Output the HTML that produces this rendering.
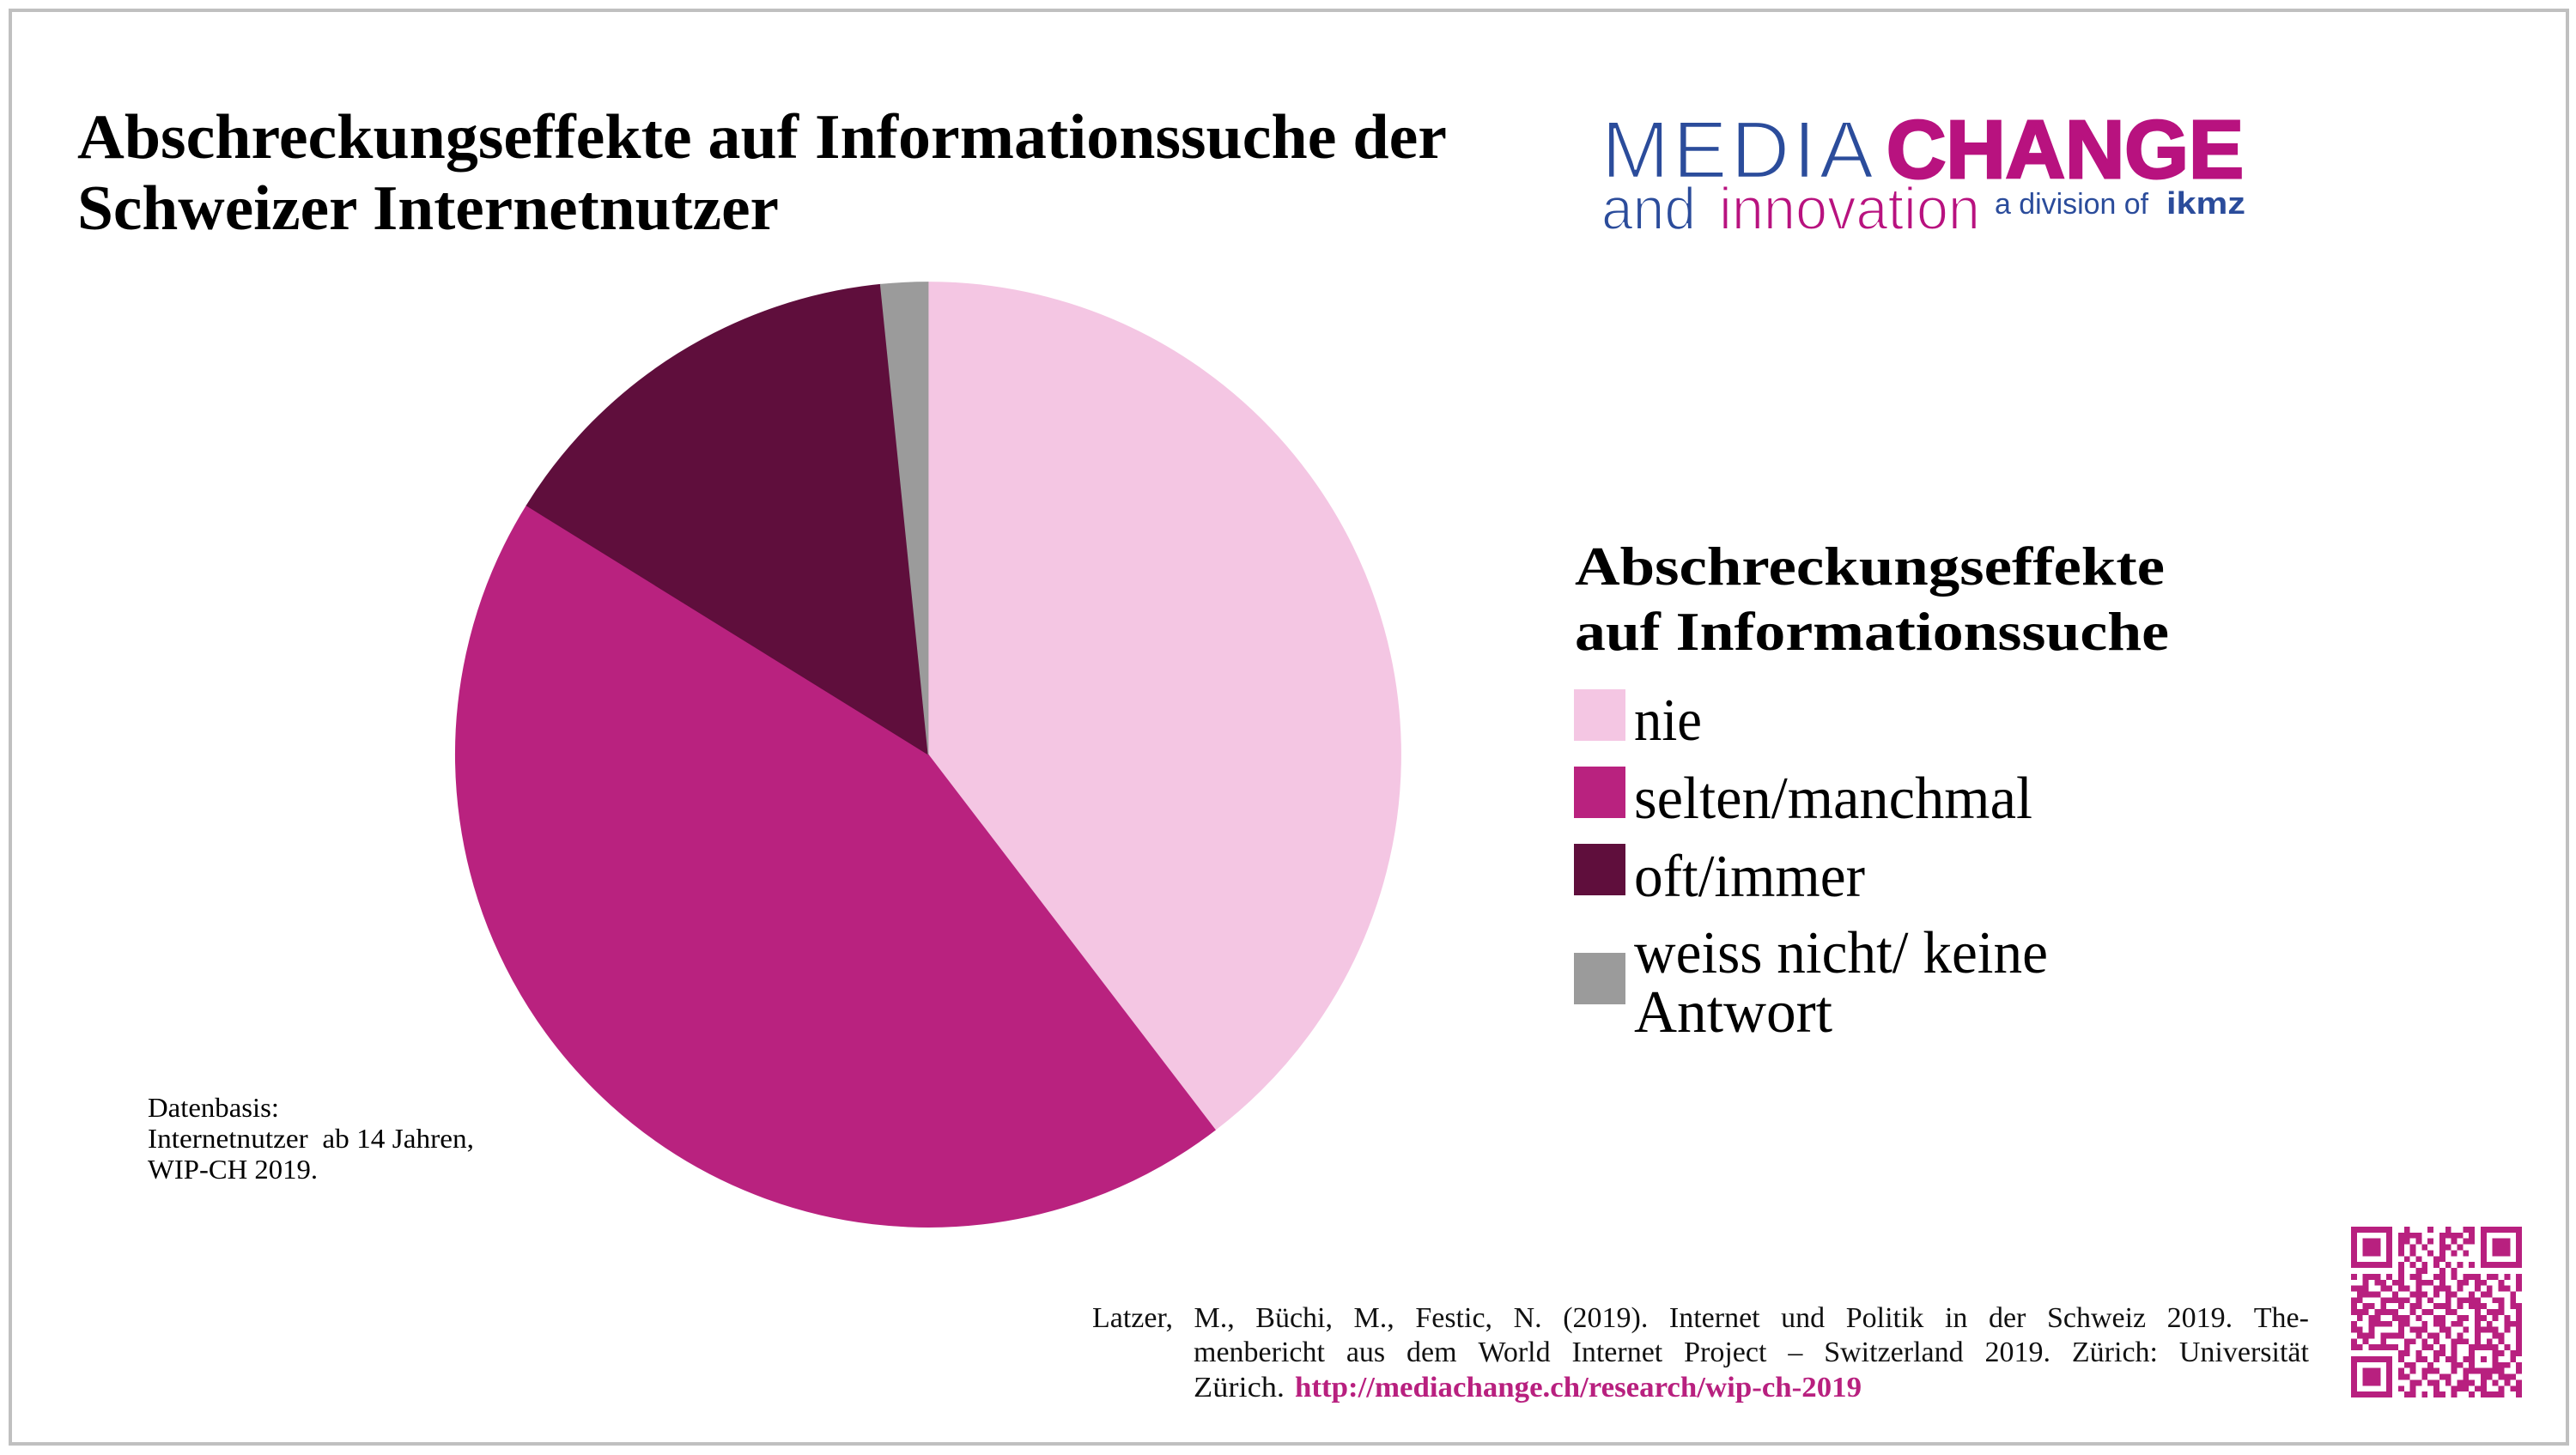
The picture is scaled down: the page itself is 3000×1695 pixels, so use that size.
<!DOCTYPE html>
<html>
<head>
<meta charset="utf-8">
<style>
  html,body{margin:0;padding:0;background:#fff;}
  body{width:3000px;height:1695px;position:relative;overflow:hidden;}
  .fn{position:absolute;display:flex;justify-content:space-between;font-family:"Liberation Serif",serif;font-size:34px;line-height:40px;height:40px;color:#111;white-space:nowrap;}
</style>
</head>
<body>
<svg width="3000" height="1695" viewBox="0 0 3000 1695" style="position:absolute;left:0;top:0">
  <!-- frame -->
  <rect x="12" y="12" width="2978" height="1670" fill="none" stroke="#c0c0c0" stroke-width="4"/>

  <!-- title -->
  <g font-family="Liberation Serif, serif" font-weight="bold" font-size="74" fill="#000">
    <text x="90" y="184" textLength="1595" lengthAdjust="spacingAndGlyphs">Abschreckungseffekte auf Informationssuche der</text>
    <text x="90" y="267" textLength="817" lengthAdjust="spacingAndGlyphs">Schweizer Internetnutzer</text>
  </g>

  <!-- logo -->
  <g font-family="Liberation Sans, sans-serif">
    <text x="1865" y="207" font-size="95" fill="#2B4C9B" stroke="#fff" stroke-width="2.5" textLength="317" lengthAdjust="spacing">MEDIA</text>
    <text x="2197" y="207" font-size="96" font-weight="bold" fill="#B8127F" stroke="#B8127F" stroke-width="3" textLength="416" lengthAdjust="spacingAndGlyphs">CHANGE</text>
    <text x="1865" y="267" font-size="70" fill="#2B4C9B" stroke="#fff" stroke-width="2" textLength="110" lengthAdjust="spacingAndGlyphs">and</text>
    <text x="2002" y="267" font-size="70" fill="#B8127F" stroke="#fff" stroke-width="2" textLength="304" lengthAdjust="spacingAndGlyphs">innovation</text>
    <text x="2323" y="249" font-size="34" fill="#2B4C9B" textLength="179" lengthAdjust="spacingAndGlyphs">a division of</text>
    <text x="2523" y="249" font-size="36" font-weight="bold" fill="#2B4C9B" textLength="92" lengthAdjust="spacingAndGlyphs">ikmz</text>
  </g>

  <!-- pie -->
  <g>
    <path d="M1081 879 L1081 328.5 A550.5 550.5 0 0 1 1415.4 1316.3 Z" fill="#F4C6E3" stroke="#F4C6E3" stroke-width="0.8"/>
    <path d="M1081 879 L1415.4 1316.3 A550.5 550.5 0 0 1 613.1 588.9 Z" fill="#B9227F" stroke="#B9227F" stroke-width="0.8"/>
    <path d="M1081 879 L613.1 588.9 A550.5 550.5 0 0 1 1025.3 331.3 Z" fill="#5F0E3C" stroke="#5F0E3C" stroke-width="0.8"/>
    <path d="M1081 879 L1025.3 331.3 A550.5 550.5 0 0 1 1081 328.5 Z" fill="#9B9B9B" stroke="#9B9B9B" stroke-width="0.8"/>
  </g>

  <!-- legend -->
  <g font-family="Liberation Serif, serif" fill="#000">
    <text x="1834" y="681" font-size="63" font-weight="bold" textLength="687" lengthAdjust="spacingAndGlyphs">Abschreckungseffekte</text>
    <text x="1834" y="757" font-size="63" font-weight="bold" textLength="692" lengthAdjust="spacingAndGlyphs">auf Informationssuche</text>

    <rect x="1833" y="803" width="60" height="60" fill="#F4C6E3"/>
    <rect x="1833" y="893" width="60" height="60" fill="#B9227F"/>
    <rect x="1833" y="983" width="60" height="60" fill="#5F0E3C"/>
    <rect x="1833" y="1110" width="60" height="60" fill="#9B9B9B"/>

    <text x="1903" y="862" font-size="70" textLength="79" lengthAdjust="spacingAndGlyphs">nie</text>
    <text x="1903" y="953" font-size="70" textLength="464" lengthAdjust="spacingAndGlyphs">selten/manchmal</text>
    <text x="1903" y="1044" font-size="70" textLength="269" lengthAdjust="spacingAndGlyphs">oft/immer</text>
    <text x="1903" y="1133" font-size="70" textLength="482" lengthAdjust="spacingAndGlyphs">weiss nicht/ keine</text>
    <text x="1903" y="1202" font-size="70" textLength="231" lengthAdjust="spacingAndGlyphs">Antwort</text>
  </g>

  <!-- data basis -->
  <g font-family="Liberation Serif, serif" font-size="32" fill="#000">
    <text x="172" y="1301" textLength="153" lengthAdjust="spacingAndGlyphs">Datenbasis:</text>
    <text x="172" y="1337" textLength="380" lengthAdjust="spacingAndGlyphs" xml:space="preserve">Internetnutzer  ab 14 Jahren,</text>
    <text x="172" y="1373" textLength="198" lengthAdjust="spacingAndGlyphs">WIP-CH 2019.</text>
  </g>

  <!-- citation line 3 -->
  <g font-family="Liberation Serif, serif" font-size="34">
    <text x="1390" y="1627" fill="#111" textLength="106" lengthAdjust="spacingAndGlyphs">Zürich.</text>
    <text x="1508" y="1627" fill="#B8207F" font-weight="bold" textLength="660" lengthAdjust="spacingAndGlyphs">http://mediachange.ch/research/wip-ch-2019</text>
  </g>

  <!-- QR code -->
  <svg x="2738" y="1429" width="199" height="199" viewBox="0 0 29 29" shape-rendering="crispEdges">
    <path fill="#B8207F" d="
M0 0h7v1h-7zM9 0h1v1h-1zM13 0h1v1h-1zM16 0h1v1h-1zM19 0h2v1h-2zM22 0h7v1h-7z
M0 1h1v1h-1zM6 1h1v1h-1zM8 1h4v1h-4zM15 1h4v1h-4zM20 1h1v1h-1zM22 1h1v1h-1zM28 1h1v1h-1z
M0 2h1v1h-1zM2 2h3v1h-3zM6 2h1v1h-1zM8 2h2v1h-2zM11 2h1v1h-1zM13 2h1v1h-1zM15 2h1v1h-1zM17 2h1v1h-1zM19 2h2v1h-2zM22 2h1v1h-1zM24 2h3v1h-3zM28 2h1v1h-1z
M0 3h1v1h-1zM2 3h3v1h-3zM6 3h1v1h-1zM8 3h1v1h-1zM10 3h1v1h-1zM12 3h1v1h-1zM15 3h2v1h-2zM18 3h1v1h-1zM22 3h1v1h-1zM24 3h3v1h-3zM28 3h1v1h-1z
M0 4h1v1h-1zM2 4h3v1h-3zM6 4h1v1h-1zM8 4h1v1h-1zM10 4h1v1h-1zM13 4h1v1h-1zM15 4h1v1h-1zM17 4h1v1h-1zM19 4h1v1h-1zM22 4h1v1h-1zM24 4h3v1h-3zM28 4h1v1h-1z
M0 5h1v1h-1zM6 5h1v1h-1zM9 5h1v1h-1zM11 5h1v1h-1zM14 5h2v1h-2zM22 5h1v1h-1zM28 5h1v1h-1z
M0 6h7v1h-7zM8 6h1v1h-1zM10 6h1v1h-1zM12 6h1v1h-1zM14 6h1v1h-1zM16 6h1v1h-1zM18 6h1v1h-1zM20 6h1v1h-1zM22 6h7v1h-7z
M8 7h1v1h-1zM11 7h2v1h-2zM15 7h1v1h-1zM17 7h1v1h-1z
M0 8h1v1h-1zM2 8h3v1h-3zM6 8h1v1h-1zM8 8h1v1h-1zM10 8h2v1h-2zM14 8h2v1h-2zM17 8h1v1h-1zM19 8h3v1h-3zM23 8h2v1h-2zM26 8h1v1h-1zM28 8h1v1h-1z
M2 9h1v1h-1zM4 9h2v1h-2zM7 9h2v1h-2zM11 9h3v1h-3zM15 9h1v1h-1zM18 9h2v1h-2zM21 9h2v1h-2zM25 9h1v1h-1zM28 9h1v1h-1z
M0 10h3v1h-3zM5 10h2v1h-2zM8 10h2v1h-2zM11 10h1v1h-1zM14 10h3v1h-3zM18 10h1v1h-1zM21 10h1v1h-1zM23 10h1v1h-1zM25 10h2v1h-2zM28 10h1v1h-1z
M1 11h4v1h-4zM7 11h1v1h-1zM10 11h3v1h-3zM14 11h1v1h-1zM16 11h2v1h-2zM20 11h1v1h-1zM22 11h2v1h-2zM27 11h1v1h-1z
M0 12h2v1h-2zM5 12h5v1h-5zM11 12h1v1h-1zM13 12h1v1h-1zM16 12h1v1h-1zM18 12h4v1h-4zM24 12h2v1h-2zM27 12h1v1h-1z
M0 13h1v1h-1zM2 13h2v1h-2zM5 13h1v1h-1zM8 13h1v1h-1zM10 13h2v1h-2zM14 13h3v1h-3zM18 13h1v1h-1zM20 13h3v1h-3zM25 13h1v1h-1zM27 13h2v1h-2z
M0 14h3v1h-3zM4 14h4v1h-4zM10 14h1v1h-1zM12 14h2v1h-2zM16 14h2v1h-2zM21 14h1v1h-1zM23 14h3v1h-3zM28 14h1v1h-1z
M1 15h1v1h-1zM3 15h2v1h-2zM7 15h3v1h-3zM11 15h1v1h-1zM14 15h2v1h-2zM18 15h2v1h-2zM21 15h2v1h-2zM24 15h1v1h-1zM26 15h1v1h-1zM28 15h1v1h-1z
M0 16h1v1h-1zM3 16h4v1h-4zM8 16h2v1h-2zM12 16h1v1h-1zM14 16h2v1h-2zM17 16h2v1h-2zM21 16h1v1h-1zM23 16h1v1h-1zM26 16h3v1h-3z
M0 17h2v1h-2zM3 17h1v1h-1zM8 17h1v1h-1zM10 17h3v1h-3zM15 17h2v1h-2zM19 17h1v1h-1zM21 17h4v1h-4zM26 17h1v1h-1zM28 17h1v1h-1z
M1 18h3v1h-3zM5 18h4v1h-4zM11 18h1v1h-1zM13 18h2v1h-2zM16 18h1v1h-1zM18 18h1v1h-1zM21 18h1v1h-1zM24 18h2v1h-2zM28 18h1v1h-1z
M0 19h1v1h-1zM2 19h1v1h-1zM5 19h1v1h-1zM9 19h2v1h-2zM12 19h1v1h-1zM14 19h1v1h-1zM17 19h3v1h-3zM21 19h1v1h-1zM23 19h1v1h-1zM25 19h1v1h-1zM28 19h1v1h-1z
M0 20h2v1h-2zM3 20h5v1h-5zM9 20h1v1h-1zM12 20h2v1h-2zM15 20h1v1h-1zM17 20h1v1h-1zM20 20h5v1h-5zM26 20h1v1h-1zM28 20h1v1h-1z
M8 21h2v1h-2zM11 21h1v1h-1zM14 21h2v1h-2zM17 21h1v1h-1zM20 21h1v1h-1zM24 21h2v1h-2zM27 21h2v1h-2z
M0 22h7v1h-7zM8 22h1v1h-1zM11 22h2v1h-2zM14 22h1v1h-1zM16 22h2v1h-2zM19 22h2v1h-2zM22 22h1v1h-1zM24 22h1v1h-1zM27 22h1v1h-1z
M0 23h1v1h-1zM6 23h1v1h-1zM9 23h2v1h-2zM13 23h1v1h-1zM17 23h2v1h-2zM20 23h1v1h-1zM24 23h3v1h-3zM28 23h1v1h-1z
M0 24h1v1h-1zM2 24h3v1h-3zM6 24h1v1h-1zM8 24h1v1h-1zM10 24h1v1h-1zM12 24h3v1h-3zM17 24h1v1h-1zM19 24h7v1h-7zM28 24h1v1h-1z
M0 25h1v1h-1zM2 25h3v1h-3zM6 25h1v1h-1zM8 25h2v1h-2zM12 25h1v1h-1zM15 25h2v1h-2zM19 25h1v1h-1zM22 25h2v1h-2zM25 25h3v1h-3z
M0 26h1v1h-1zM2 26h3v1h-3zM6 26h1v1h-1zM10 26h2v1h-2zM13 26h2v1h-2zM16 26h1v1h-1zM18 26h3v1h-3zM22 26h1v1h-1zM24 26h1v1h-1zM26 26h1v1h-1zM28 26h1v1h-1z
M0 27h1v1h-1zM6 27h1v1h-1zM8 27h1v1h-1zM10 27h1v1h-1zM14 27h1v1h-1zM17 27h3v1h-3zM21 27h2v1h-2zM25 27h1v1h-1zM27 27h2v1h-2z
M0 28h7v1h-7zM9 28h2v1h-2zM12 28h1v1h-1zM14 28h2v1h-2zM17 28h1v1h-1zM20 28h1v1h-1zM22 28h4v1h-4zM28 28h1v1h-1z"/>
  </svg>
</svg>

<!-- justified citation lines -->
<div class="fn" style="left:1272px;top:1516px;width:1417px;">
  <span>Latzer,</span><span>M.,</span><span>Büchi,</span><span>M.,</span><span>Festic,</span><span>N.</span><span>(2019).</span><span>Internet</span><span>und</span><span>Politik</span><span>in</span><span>der</span><span>Schweiz</span><span>2019.</span><span>The-</span>
</div>
<div class="fn" style="left:1390px;top:1556px;width:1299px;">
  <span>menbericht</span><span>aus</span><span>dem</span><span>World</span><span>Internet</span><span>Project</span><span>–</span><span>Switzerland</span><span>2019.</span><span>Zürich:</span><span>Universität</span>
</div>
</body>
</html>
